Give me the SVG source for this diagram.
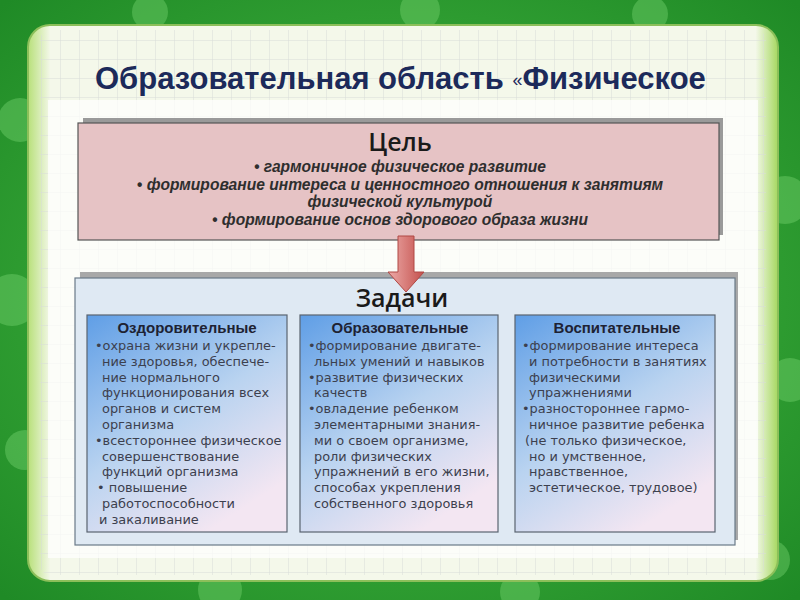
<svg xmlns="http://www.w3.org/2000/svg" width="800" height="600" viewBox="0 0 800 600">
<style>
.title{font-family:"Liberation Sans",Arial,sans-serif;font-weight:bold;font-size:31px;fill:#1c2a5a}
.h1{font-family:"Open Sans",sans-serif;font-weight:600;font-size:25px;fill:#1a1a1a;text-anchor:middle}
.goal{font-family:"Liberation Sans",Arial,sans-serif;font-weight:bold;font-style:italic;font-size:15.6px;fill:#2e2e2e;text-anchor:middle}
.h2{font-family:"Liberation Sans",Arial,sans-serif;font-weight:bold;font-size:15px;fill:#1e2233;text-anchor:middle}
.it{font-family:"DejaVu Sans",sans-serif;font-size:12.9px;fill:#3c404e}
.sub{stroke:#5a6470;stroke-width:1.2}
</style>
<defs>
<radialGradient id="bg" cx="50%" cy="50%" r="70%">
<stop offset="0" stop-color="#4cc046"/>
<stop offset="1" stop-color="#1f8a26"/>
</radialGradient>
<linearGradient id="frame" x1="0" y1="0" x2="1" y2="0">
<stop offset="0" stop-color="#b8e07a"/>
<stop offset="0.03" stop-color="#f4f8ea"/>
<stop offset="0.97" stop-color="#f4f8ea"/>
<stop offset="1" stop-color="#a6d860"/>
</linearGradient>
<pattern id="grid" width="19" height="19" patternUnits="userSpaceOnUse" x="4" y="3">
<path d="M19 0V19M0 19H19" fill="none" stroke="#d9dcd8" stroke-width="1"/>
</pattern>
<linearGradient id="subg" x1="0" y1="0" x2="0.6" y2="1">
<stop offset="0" stop-color="#5f9ee6"/>
<stop offset="0.55" stop-color="#b9d3f0"/>
<stop offset="1" stop-color="#f3e6f2"/>
</linearGradient>
<linearGradient id="arr" x1="0" y1="0" x2="1" y2="0">
<stop offset="0" stop-color="#ecaaa8"/>
<stop offset="1" stop-color="#c4504c"/>
</linearGradient>
</defs>
<rect width="800" height="600" fill="url(#bg)"/>
<g fill="#7ad874" opacity="0.4">
<circle cx="20" cy="120" r="22"/><circle cx="12" cy="300" r="26"/><circle cx="25" cy="450" r="20"/>
<circle cx="785" cy="200" r="24"/><circle cx="790" cy="380" r="22"/><circle cx="770" cy="560" r="20"/>
<circle cx="150" cy="12" r="18"/><circle cx="420" cy="10" r="20"/><circle cx="650" cy="14" r="18"/>
<circle cx="220" cy="590" r="22"/><circle cx="520" cy="592" r="20"/>
</g>
<g id="paper">
<rect x="28" y="25" width="750" height="556" rx="22" fill="url(#frame)" stroke="#8cbf5a" stroke-width="2"/>
<rect x="40" y="30" width="726" height="545" rx="10" fill="url(#grid)"/>
<rect x="48" y="100" width="710" height="458" fill="#ffffff" opacity="0.7"/>
</g>
<text id="title" class="title" x="95" y="89">Образовательная область <tspan font-size="18" font-weight="normal" dy="-3">«</tspan><tspan dy="3">Физическое</tspan></text>
<g id="goal">
<rect x="83" y="118" width="640" height="117" fill="#9a9a9a"/>
<rect x="78" y="123" width="641" height="117" fill="#e6c3c5" stroke="#555" stroke-width="1.2"/>
<text class="h1" x="400" y="151">Цель</text>
<text class="goal" x="400" y="172">• гармоничное физическое развитие</text>
<text class="goal" x="400" y="190">• формирование интереса и ценностного отношения к занятиям</text>
<text class="goal" x="400" y="207">физической культурой</text>
<text class="goal" x="400" y="225">• формирование основ здорового образа жизни</text>
</g>
<g id="tasks">
<rect x="80" y="272" width="658" height="268" fill="#a8a8a8"/>
<rect x="75" y="278" width="660" height="267" fill="#dfe9f3" stroke="#6a7a88" stroke-width="1.2"/>
<text class="h1" x="402" y="307">Задачи</text>
</g>
<g id="connectors">
<path d="M398 236H414V272H424L406 292L388 272H398Z" fill="url(#arr)" stroke="#b04844" stroke-width="1"/>
</g>
<g id="health">
<rect class="sub" x="87" y="315" width="200" height="217" fill="url(#subg)"/>
<text class="h2" x="187" y="333">Оздоровительные</text>
<text class="it" x="95" y="350">•охрана жизни и укрепле-</text>
<text class="it" x="102" y="366">ние здоровья, обеспече-</text>
<text class="it" x="102" y="382">ние нормального</text>
<text class="it" x="102" y="397">функционирования всех</text>
<text class="it" x="102" y="413">органов и систем</text>
<text class="it" x="102" y="429">организма</text>
<text class="it" x="95" y="445">•всестороннее физическое</text>
<text class="it" x="102" y="461">совершенствование</text>
<text class="it" x="102" y="476">функций организма</text>
<text class="it" x="97" y="492">• повышение</text>
<text class="it" x="102" y="508">работоспособности</text>
<text class="it" x="99" y="524">и закаливание</text>
</g>
<g id="edu">
<rect class="sub" x="300" y="315" width="198" height="217" fill="url(#subg)"/>
<text class="h2" x="400" y="333">Образовательные</text>
<text class="it" x="308" y="350">•формирование двигате-</text>
<text class="it" x="314" y="366">льных умений и навыков</text>
<text class="it" x="308" y="382">•развитие физических</text>
<text class="it" x="314" y="397">качеств</text>
<text class="it" x="308" y="413">•овладение ребенком</text>
<text class="it" x="314" y="429">элементарными знания-</text>
<text class="it" x="314" y="445">ми о своем организме,</text>
<text class="it" x="314" y="461">роли физических</text>
<text class="it" x="314" y="476">упражнений в его жизни,</text>
<text class="it" x="314" y="492">способах укрепления</text>
<text class="it" x="314" y="508">собственного здоровья</text>
</g>
<g id="upbringing">
<rect class="sub" x="515" y="315" width="200" height="217" fill="url(#subg)"/>
<text class="h2" x="617" y="333">Воспитательные</text>
<text class="it" x="522" y="350">•формирование интереса</text>
<text class="it" x="529" y="366">и потребности в занятиях</text>
<text class="it" x="529" y="382">физическими</text>
<text class="it" x="529" y="397">упражнениями</text>
<text class="it" x="522" y="413">•разностороннее  гармо-</text>
<text class="it" x="529" y="429">ничное развитие ребенка</text>
<text class="it" x="525" y="445">(не только физическое,</text>
<text class="it" x="529" y="461">но и умственное,</text>
<text class="it" x="529" y="476">нравственное,</text>
<text class="it" x="529" y="492">эстетическое, трудовое)</text>
</g>
</svg>
